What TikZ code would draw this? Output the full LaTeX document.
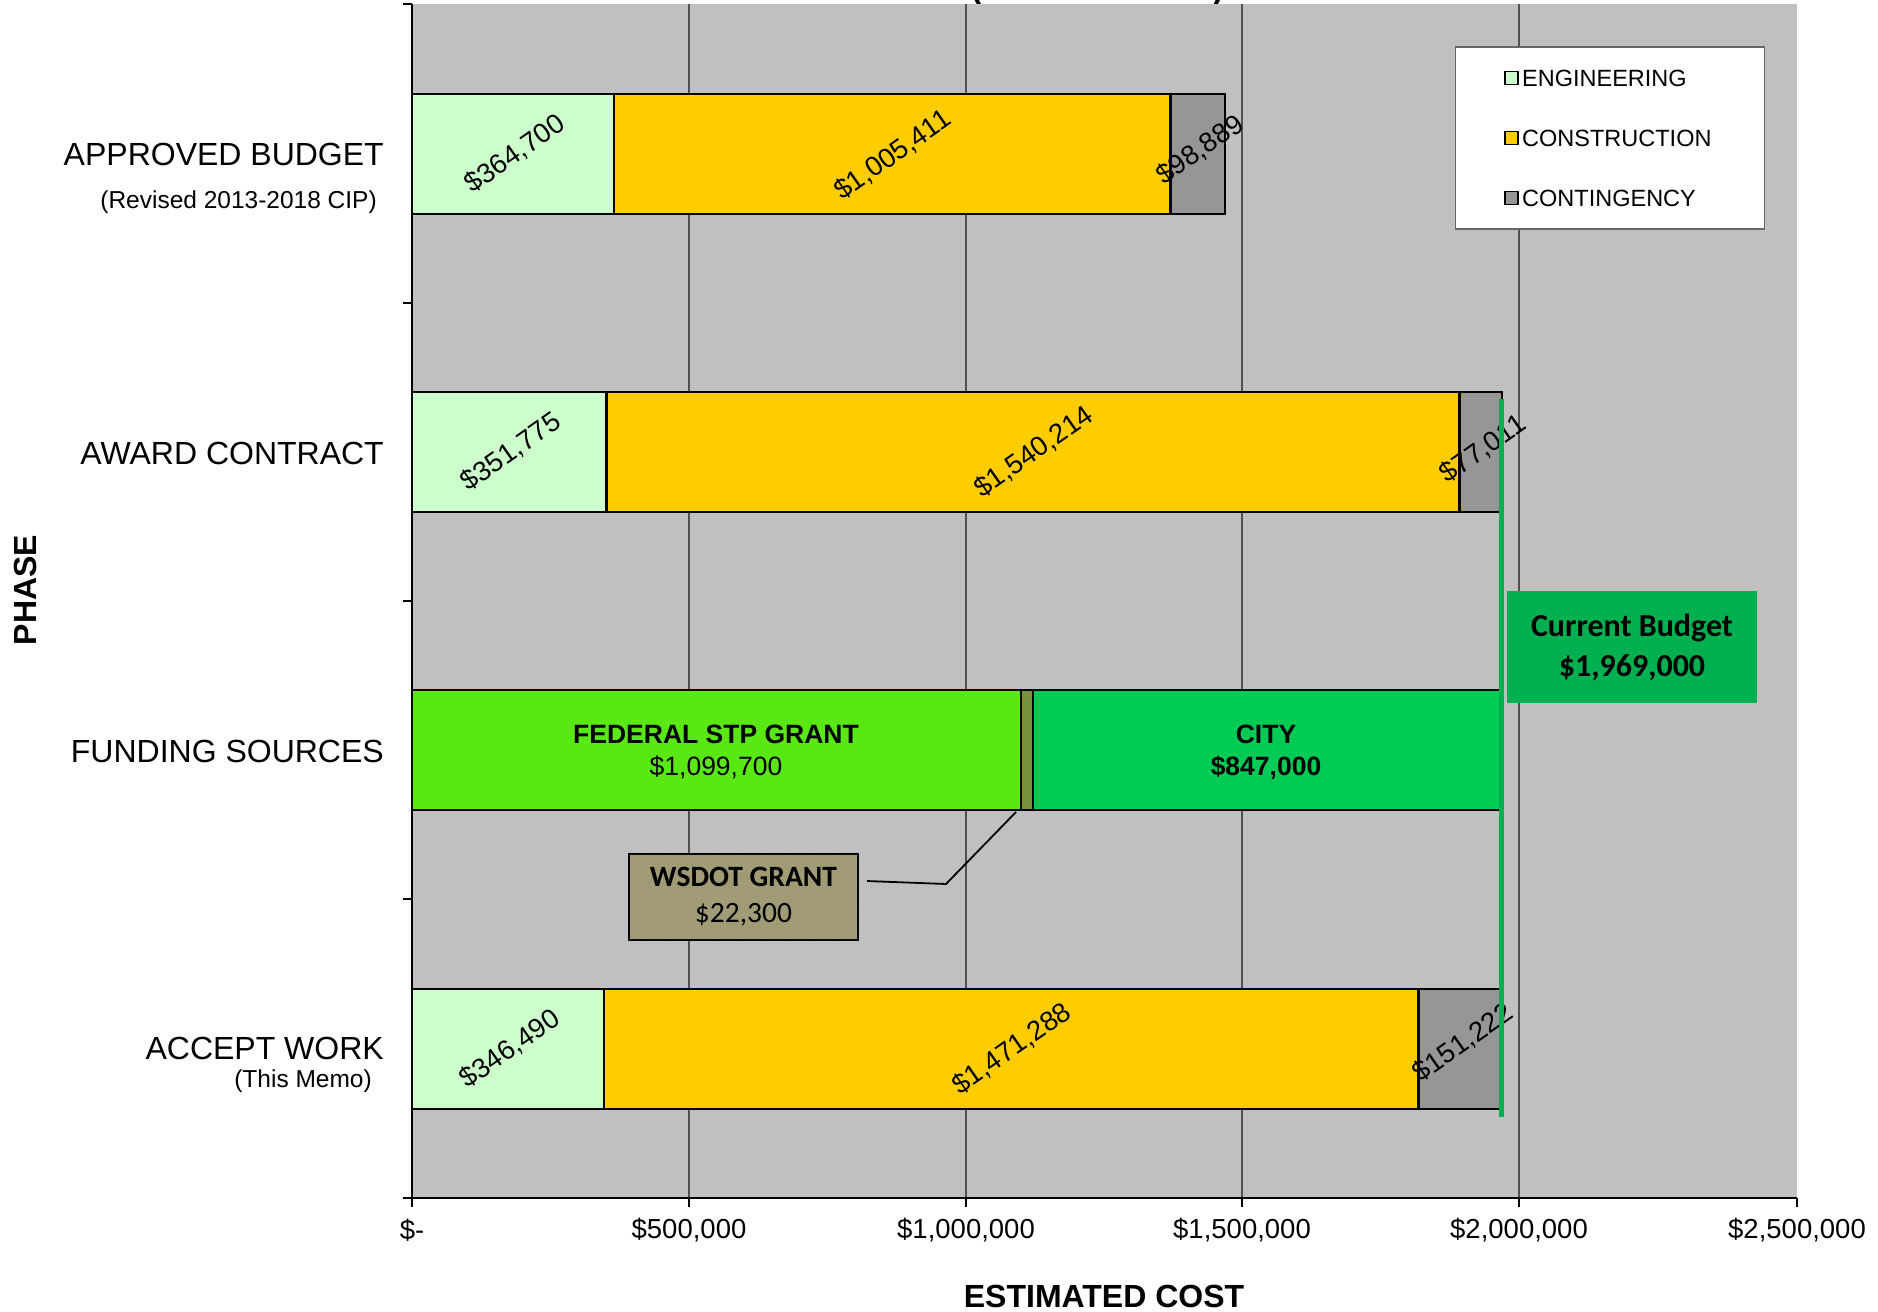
\documentclass[tikz,border=0pt]{standalone}
\usepackage{fontspec}
\usetikzlibrary{patterns}
\setmainfont{Liberation Sans}
\newfontfamily\carlito{Carlito}
\definecolor{plotgray}{HTML}{C0C0C0}
\definecolor{engc}{HTML}{CCFFCC}
\definecolor{conc}{HTML}{FFCC00}
\definecolor{cntc}{HTML}{969696}
\definecolor{fedc}{HTML}{5AE814}
\definecolor{cityc}{HTML}{00CC55}
\definecolor{wsbar}{HTML}{77933C}
\definecolor{wsbox}{HTML}{A29D76}
\definecolor{wsdot}{HTML}{8E8962}
\definecolor{budc}{HTML}{00B050}
\definecolor{gridc}{HTML}{505050}
\tikzset{
  catlab/.style={anchor=east, inner sep=0pt, font=\fontsize{32}{36}\selectfont},
  sublab/.style={anchor=east, inner sep=0pt, font=\fontsize{24.5}{28}\selectfont},
  vallab/.style={rotate=35, inner sep=0pt, font=\fontsize{27.5}{32}\selectfont},
  ticklab/.style={inner sep=0pt, font=\fontsize{27.5}{30}\selectfont},
  leglab/.style={anchor=west, inner sep=0pt, font=\fontsize{23.5}{26}\selectfont},
  legsq/.style={draw=black, line width=1.5pt},
  seg/.style={draw=black, line width=2.5pt},
  gridln/.style={draw=gridc, line width=1.5pt},
  axisln/.style={draw=black, line width=1.5pt},
}
\begin{document}
\begin{tikzpicture}[x=1pt, y=-1pt]
\useasboundingbox (0,0) rectangle (1878,1311);
\fill[white] (0,0) rectangle (1878,1311);
% cut-off title fragments
\node[anchor=base, inner sep=0pt, font=\fontsize{32}{36}\selectfont\bfseries] (tl) at (977,0) {(};
\node[anchor=base, inner sep=0pt, font=\fontsize{32}{36}\selectfont\bfseries] (tr) at (1218,0) {)};
% plot area
\fill[plotgray] (412,4) rectangle (1797,1198);
\foreach \x in {689,966,1242,1519} \draw[gridln] (\x,4) -- (\x,1198);
% axes
\draw[axisln] (412,4) -- (412,1198);
\draw[axisln] (412,1198) -- (1797,1198);
\foreach \y in {4,303,601,899,1198} \draw[axisln] (403,\y) -- (412,\y);
\foreach \x in {412,689,966,1242,1519,1797} \draw[axisln] (\x,1198) -- (\x,1207);
% tick labels
\node[ticklab] (t0) at (412,1230) {\$-};
\node[ticklab] (t1) at (689,1230) {\$500,000};
\node[ticklab] (t2) at (966,1230) {\$1,000,000};
\node[ticklab] (t3) at (1242,1230) {\$1,500,000};
\node[ticklab] (t4) at (1519,1230) {\$2,000,000};
\node[ticklab] (t5) at (1797,1230) {\$2,500,000};
% axis titles
\node[inner sep=0pt, font=\fontsize{32}{36}\selectfont\bfseries] (xt) at (1104,1296) {ESTIMATED COST};
\node[inner sep=0pt, rotate=90, font=\fontsize{32}{36}\selectfont\bfseries] (yt) at (25,590) {PHASE};
% category labels
\node[catlab] (c1) at (384,154) {APPROVED BUDGET};
\node[sublab] (c1s) at (377,202) {(Revised 2013-2018 CIP)};
\node[catlab] (c2) at (384,453) {AWARD CONTRACT};
\node[catlab] (c3) at (384,751) {FUNDING SOURCES};
\node[catlab] (c4) at (384,1048) {ACCEPT WORK};
\node[sublab] (c4s) at (372,1081) {(This Memo)};
% approved budget bar
\draw[seg, fill=engc] (412,94) rectangle (613.9,214);
\draw[seg, fill=conc] (613.9,94) rectangle (1170.5,214);
\draw[seg, fill=cntc] (1170.5,94) rectangle (1225.2,214);
\node[vallab] (a1) at (515,154) {\$364,700};
\node[vallab] (a2) at (893,155) {\$1,005,411};
\node[vallab] (a3) at (1200,150) {\$98,889};
% award contract bar
\draw[seg, fill=engc] (412,392) rectangle (606.7,512);
\draw[seg, fill=conc] (606.7,392) rectangle (1459.4,512);
\draw[seg, fill=cntc] (1459.4,392) rectangle (1502,512);
\node[vallab] (b1) at (511,452) {\$351,775};
\node[vallab] (b2) at (1034,452) {\$1,540,214};
\node[vallab] (b3) at (1483,449) {\$77,011};
% funding sources bar
\draw[seg, fill=fedc] (412,690) rectangle (1020.8,810);
\draw[seg, fill=wsbar] (1020.8,690) rectangle (1033.1,810);
\draw[seg, fill=cityc] (1033.1,690) rectangle (1502,810);
\node[inner sep=0pt, align=center, font=\fontsize{26.5}{32}\selectfont] (fed) at (716,752) {\textbf{FEDERAL STP GRANT}\\\$1,099,700};
\node[inner sep=0pt, align=center, font=\fontsize{26.5}{32}\selectfont\bfseries] (city) at (1266,752) {CITY\\\$847,000};
% accept work bar
\draw[seg, fill=engc] (412,989) rectangle (603.8,1109);
\draw[seg, fill=conc] (603.8,989) rectangle (1418.3,1109);
\draw[seg, fill=cntc] (1418.3,989) rectangle (1502,1109);
\node[vallab] (d1) at (510,1049) {\$346,490};
\node[vallab] (d2) at (1012,1049) {\$1,471,288};
\node[vallab] (d3) at (1463,1043) {\$151,222};
% current budget line and box
\coordinate (gtop) at (1501,399);
\coordinate (gbot) at (1501,1117);
\draw[budc, line width=5pt] (gtop) -- (gbot);
\node[fill=budc, minimum width=250pt, minimum height=112pt, inner sep=0pt, align=center, font=\carlito\fontsize{32}{40}\selectfont\bfseries] (bud) at (1632,647) {Current Budget\\\$1,969,000};
% WSDOT callout
\node[draw=black, line width=1.5pt, fill=wsbox, postaction={pattern=dots, pattern color=wsdot}, minimum width=229pt, minimum height=86pt, inner sep=0pt, align=center, font=\carlito\fontsize{29.5}{36}\selectfont] (ws) at (743.5,897) {\textbf{WSDOT GRANT}\\\$22,300};
\coordinate (wsa) at (867,881);
\coordinate (wsb) at (946,884);
\coordinate (wsc) at (1016,812);
\draw[black, line width=1.8pt] (wsa) -- (wsb) -- (wsc);
% legend
\node[draw=black!60, line width=1.2pt, fill=white, minimum width=309pt, minimum height=182pt, inner sep=0pt] (leg) at (1610,138) {};
\draw[legsq, fill=engc] (1505,71.5) rectangle (1518,84.5);
\node[leglab] (l1) at (1522,78) {ENGINEERING};
\draw[legsq, fill=conc] (1505,131.5) rectangle (1518,144.5);
\node[leglab] (l2) at (1522,138) {CONSTRUCTION};
\draw[legsq, fill=cntc] (1505,191.5) rectangle (1518,204.5);
\node[leglab] (l3) at (1522,198) {CONTINGENCY};
\end{tikzpicture}
\end{document}
